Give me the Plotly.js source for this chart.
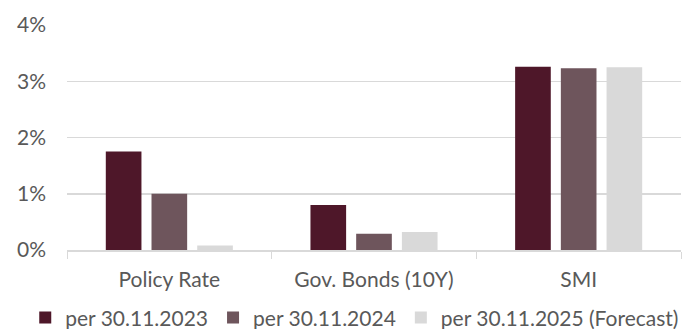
<!DOCTYPE html>
<html><head><meta charset="utf-8">
<script src="https://cdn.plot.ly/plotly-3.0.1.min.js"></script>
<style>body{margin:0;padding:0;background:#fff}#chart{width:690px;height:329px}</style>
</head><body><div id="chart"></div>
<script>
const categories = ["Policy Rate", "Gov. Bonds (10Y)", "SMI"];
const seriesNames = ["per 30.11.2023", "per 30.11.2024", "per 30.11.2025 (Forecast)"];
const v2023 = [1.75, 0.80, 3.26];
const v2024 = [1.00, 0.29, 3.23];
const v2025 = [0.08, 0.32, 3.25];
const colors = ["#4e1729", "#6e555c", "#d9d9d9"];
const yTicks = [0, 1, 2, 3, 4];
const yTickText = ["0%", "1%", "2%", "3%", "4%"];

const font = "Lato, sans-serif";
const data = [v2023, v2024, v2025].map((vals, i) => ({
  type: "bar", x: categories, y: vals, name: seriesNames[i],
  marker: {color: colors[i]}, hoverinfo: "none"
}));
const layout = {
  width: 690, height: 329,
  margin: {l: 67, r: 9, t: 25, b: 79, autoexpand: false},
  paper_bgcolor: "#fff", plot_bgcolor: "#fff",
  barmode: "group", bargap: 0.33, bargroupgap: 0.22,
  font: {family: font, color: "#595959", size: 21},
  showlegend: true,
  legend: {orientation: "h", x: -0.068, xref: "paper", xanchor: "left",
           y: -0.302, yref: "paper", yanchor: "middle", bgcolor: "rgba(0,0,0,0)",
           font: {size: 21, color: "#595959"}, itemwidth: 30, traceorder: "normal"},
  xaxis: {type: "category", showline: true, linecolor: "#d9d9d9", linewidth: 1.5,
          ticks: "outside", tickson: "boundaries", ticklen: 7, tickcolor: "#d9d9d9",
          ticklabelstandoff: 10,
          tickfont: {size: 21, color: "#595959"}, showgrid: false, fixedrange: true, automargin: false},
  yaxis: {range: [0, 4], tickvals: yTicks, ticktext: yTickText, showgrid: true,
          gridcolor: "#d9d9d9", gridwidth: 1.5, zeroline: false, showline: false,
          ticks: "", ticklabelstandoff: 20, tickfont: {size: 21, color: "#595959"}, fixedrange: true, automargin: false}
};
Plotly.newPlot("chart", data, layout, {staticPlot: true, displayModeBar: false});
</script></body></html>
